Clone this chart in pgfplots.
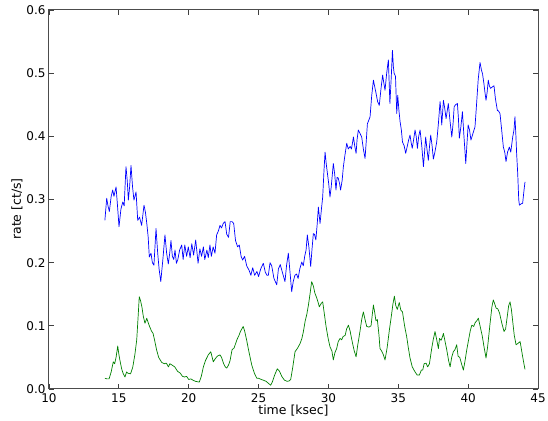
\documentclass[border=0pt]{standalone}
\usepackage{fontspec}
\setmainfont{DejaVu Sans}
\usepackage{pgfplots}
\pgfplotsset{compat=1.18}

\pgfplotstableread{
t r
14.00 0.267
14.13 0.302
14.22 0.290
14.32 0.281
14.45 0.305
14.56 0.315
14.65 0.305
14.80 0.320
14.92 0.285
15.01 0.257
15.15 0.285
15.28 0.296
15.38 0.290
15.51 0.352
15.60 0.330
15.68 0.299
15.77 0.320
15.87 0.354
15.98 0.320
16.08 0.299
16.23 0.312
16.35 0.267
16.48 0.272
16.63 0.259
16.80 0.291
16.90 0.280
17.00 0.262
17.10 0.240
17.18 0.209
17.30 0.215
17.40 0.200
17.51 0.196
17.66 0.254
17.78 0.215
17.88 0.190
18.00 0.170
18.15 0.205
18.30 0.244
18.42 0.215
18.54 0.198
18.64 0.215
18.73 0.235
18.83 0.210
18.93 0.205
19.02 0.220
19.12 0.199
19.22 0.205
19.35 0.220
19.50 0.228
19.60 0.205
19.72 0.228
19.85 0.210
19.97 0.225
20.10 0.208
20.22 0.230
20.35 0.212
20.50 0.236
20.67 0.199
20.80 0.222
20.92 0.210
21.05 0.225
21.15 0.205
21.30 0.220
21.40 0.208
21.52 0.228
21.62 0.210
21.75 0.225
21.88 0.215
22.00 0.244
22.12 0.250
22.24 0.259
22.35 0.255
22.47 0.262
22.60 0.265
22.72 0.245
22.85 0.240
22.97 0.265
23.10 0.265
23.22 0.262
23.35 0.235
23.50 0.225
23.62 0.228
23.75 0.210
23.86 0.204
24.00 0.210
24.15 0.195
24.32 0.188
24.45 0.180
24.58 0.192
24.72 0.180
24.88 0.186
25.00 0.178
25.15 0.190
25.34 0.199
25.48 0.185
25.60 0.180
25.70 0.180
25.82 0.200
25.94 0.195
26.10 0.175
26.20 0.170
26.30 0.165
26.42 0.190
26.55 0.197
26.70 0.185
26.89 0.170
27.00 0.195
27.13 0.215
27.25 0.185
27.37 0.154
27.48 0.170
27.60 0.180
27.72 0.182
27.83 0.175
27.95 0.190
28.09 0.201
28.20 0.195
28.30 0.210
28.40 0.220
28.49 0.244
28.60 0.225
28.73 0.194
28.82 0.220
28.92 0.246
29.00 0.245
29.10 0.236
29.20 0.262
29.28 0.288
29.40 0.262
29.50 0.285
29.59 0.304
29.68 0.345
29.76 0.375
29.85 0.355
29.93 0.341
30.02 0.325
30.11 0.304
30.20 0.320
30.35 0.357
30.45 0.340
30.54 0.315
30.62 0.335
30.70 0.334
30.80 0.325
30.87 0.315
30.98 0.330
31.07 0.352
31.18 0.370
31.31 0.389
31.42 0.380
31.55 0.384
31.65 0.380
31.79 0.399
31.88 0.385
31.98 0.373
32.05 0.395
32.14 0.410
32.25 0.405
32.38 0.399
32.50 0.380
32.62 0.365
32.70 0.390
32.79 0.420
32.88 0.425
32.98 0.431
33.10 0.465
33.22 0.489
33.30 0.480
33.41 0.468
33.52 0.455
33.64 0.449
33.76 0.475
33.88 0.497
33.96 0.485
34.05 0.473
34.17 0.500
34.29 0.521
34.40 0.452
34.50 0.495
34.58 0.536
34.65 0.510
34.70 0.500
34.80 0.495
34.89 0.436
34.96 0.465
35.05 0.440
35.13 0.423
35.22 0.410
35.30 0.391
35.42 0.385
35.53 0.373
35.65 0.385
35.75 0.395
35.84 0.402
35.92 0.390
36.00 0.381
36.10 0.395
36.20 0.410
36.28 0.400
36.37 0.381
36.46 0.400
36.56 0.410
36.68 0.385
36.80 0.352
36.88 0.375
36.96 0.399
37.05 0.380
37.15 0.362
37.24 0.385
37.32 0.402
37.42 0.385
37.51 0.364
37.62 0.375
37.75 0.391
37.87 0.420
37.99 0.455
38.05 0.440
38.11 0.418
38.18 0.440
38.23 0.457
38.32 0.445
38.42 0.428
38.50 0.440
38.58 0.452
38.70 0.425
38.83 0.399
38.92 0.420
39.00 0.447
39.10 0.450
39.23 0.452
39.30 0.430
39.37 0.397
39.48 0.415
39.59 0.439
39.70 0.400
39.83 0.357
39.92 0.390
40.00 0.418
40.10 0.410
40.20 0.394
40.35 0.405
40.49 0.415
40.60 0.450
40.72 0.490
40.85 0.517
40.95 0.505
41.03 0.499
41.12 0.485
41.20 0.470
41.28 0.457
41.36 0.470
41.44 0.489
41.52 0.480
41.60 0.476
41.72 0.478
41.85 0.480
41.95 0.460
42.09 0.441
42.18 0.440
42.28 0.436
42.40 0.410
42.52 0.383
42.62 0.375
42.71 0.360
42.82 0.375
42.95 0.383
43.05 0.375
43.19 0.399
43.28 0.410
43.35 0.431
43.42 0.400
43.47 0.373
43.55 0.340
43.62 0.300
43.67 0.291
43.78 0.293
43.90 0.294
44.00 0.315
44.07 0.328
}\hardrate

\pgfplotstableread{
t r
14.00 0.017
14.15 0.016
14.30 0.016
14.45 0.027
14.60 0.043
14.70 0.040
14.80 0.050
14.92 0.068
15.00 0.055
15.08 0.045
15.20 0.032
15.30 0.025
15.44 0.019
15.55 0.027
15.65 0.025
15.84 0.024
16.00 0.035
16.15 0.055
16.28 0.078
16.38 0.115
16.46 0.146
16.55 0.140
16.65 0.130
16.75 0.115
16.87 0.104
17.00 0.112
17.10 0.105
17.20 0.099
17.33 0.092
17.45 0.088
17.58 0.075
17.70 0.062
17.85 0.050
18.07 0.042
18.25 0.040
18.40 0.041
18.55 0.035
18.65 0.040
18.80 0.038
19.00 0.035
19.20 0.028
19.40 0.025
19.55 0.020
19.70 0.019
19.85 0.020
20.00 0.015
20.15 0.016
20.30 0.014
20.50 0.012
20.76 0.011
20.90 0.020
21.05 0.035
21.20 0.045
21.40 0.054
21.58 0.059
21.68 0.050
21.76 0.043
21.90 0.048
22.05 0.052
22.24 0.054
22.35 0.050
22.50 0.040
22.62 0.035
22.72 0.033
22.85 0.038
22.96 0.045
23.10 0.062
23.25 0.065
23.45 0.078
23.60 0.085
23.70 0.091
23.80 0.095
23.90 0.099
24.00 0.092
24.14 0.078
24.30 0.060
24.51 0.038
24.70 0.025
24.87 0.017
25.00 0.017
25.20 0.015
25.34 0.014
25.55 0.012
25.70 0.009
25.87 0.006
26.00 0.012
26.15 0.022
26.34 0.032
26.50 0.028
26.66 0.020
26.85 0.014
27.06 0.012
27.20 0.013
27.30 0.015
27.45 0.035
27.61 0.059
27.80 0.065
27.97 0.072
28.10 0.080
28.20 0.090
28.33 0.107
28.45 0.118
28.57 0.133
28.68 0.150
28.80 0.170
28.92 0.163
29.04 0.151
29.15 0.145
29.25 0.138
29.35 0.130
29.47 0.135
29.59 0.138
29.70 0.120
29.83 0.099
29.98 0.080
30.11 0.067
30.25 0.060
30.35 0.046
30.47 0.058
30.59 0.064
30.70 0.075
30.83 0.080
30.95 0.078
31.05 0.083
31.20 0.085
31.30 0.095
31.43 0.101
31.55 0.092
31.70 0.075
31.85 0.060
31.98 0.051
32.10 0.070
32.25 0.090
32.38 0.110
32.50 0.122
32.62 0.110
32.74 0.099
32.90 0.098
33.05 0.100
33.15 0.120
33.22 0.133
33.32 0.120
33.40 0.108
33.50 0.110
33.62 0.085
33.69 0.064
33.81 0.060
33.92 0.055
34.05 0.046
34.20 0.065
34.36 0.093
34.50 0.115
34.62 0.135
34.72 0.147
34.82 0.132
34.93 0.126
35.07 0.137
35.18 0.125
35.30 0.122
35.45 0.100
35.60 0.083
35.72 0.065
35.84 0.049
36.00 0.035
36.20 0.027
36.35 0.022
36.51 0.022
36.65 0.030
36.75 0.030
36.85 0.040
36.99 0.041
37.10 0.035
37.23 0.040
37.39 0.064
37.50 0.078
37.63 0.091
37.75 0.078
37.87 0.064
37.95 0.080
38.06 0.077
38.15 0.082
38.23 0.088
38.35 0.075
38.47 0.062
38.60 0.045
38.71 0.035
38.82 0.050
38.94 0.059
39.05 0.062
39.18 0.070
39.28 0.052
39.40 0.050
39.55 0.038
39.66 0.030
39.78 0.045
39.90 0.062
40.05 0.080
40.15 0.092
40.26 0.101
40.40 0.099
40.50 0.105
40.62 0.108
40.73 0.112
40.85 0.100
41.00 0.085
41.15 0.065
41.28 0.049
41.40 0.068
41.55 0.100
41.70 0.130
41.80 0.141
41.90 0.135
42.00 0.128
42.12 0.127
42.25 0.120
42.40 0.105
42.57 0.091
42.68 0.095
42.80 0.115
42.90 0.132
43.00 0.138
43.10 0.125
43.20 0.105
43.30 0.085
43.43 0.070
43.55 0.072
43.72 0.075
43.85 0.058
43.95 0.045
44.07 0.031
}\softrate

\definecolor{mplblue}{rgb}{0,0,1}
\definecolor{mplgreen}{rgb}{0,0.5,0}

\begin{document}
\begin{tikzpicture}
\begin{axis}[
  scale only axis,
  width=489pt, height=379pt,
  xmin=10, xmax=45, ymin=0, ymax=0.6,
  xtick={10,15,...,45},
  ytick={0,0.1,...,0.6},
  yticklabel style={/pgf/number format/.cd, fixed, fixed zerofill, precision=1},
  /pgf/number format/assume math mode=true,
  tick align=inside,
  major tick length=5pt,
  tick style={black!75, line width=0.8pt},
  axis line style={black!70, line width=1pt},
  tick label style={font=\fontsize{12}{14}\selectfont},
  label style={font=\fontsize{12.5}{15}\selectfont},
  xlabel={time [ksec]},
  ylabel={rate [ct/s]},
  xlabel style={at={(axis description cs:0.5,-0.066)}, anchor=base},
  ylabel style={at={(axis description cs:-0.0573,0.475)}, anchor=base},
  xticklabel style={yshift=-1pt},
]
\addplot[mplblue, line width=0.7pt, line join=round] table[x=t, y=r] {\hardrate};
\addplot[mplgreen, line width=0.7pt, line join=round] table[x=t, y=r] {\softrate};
\coordinate (ll) at (rel axis cs:0,0);
\coordinate (ur) at (rel axis cs:1,1);
\end{axis}
\pgfresetboundingbox
\path[use as bounding box] ([shift={(-49pt,-32pt)}]ll) rectangle ([shift={(10pt,10pt)}]ur);
\end{tikzpicture}
\end{document}
